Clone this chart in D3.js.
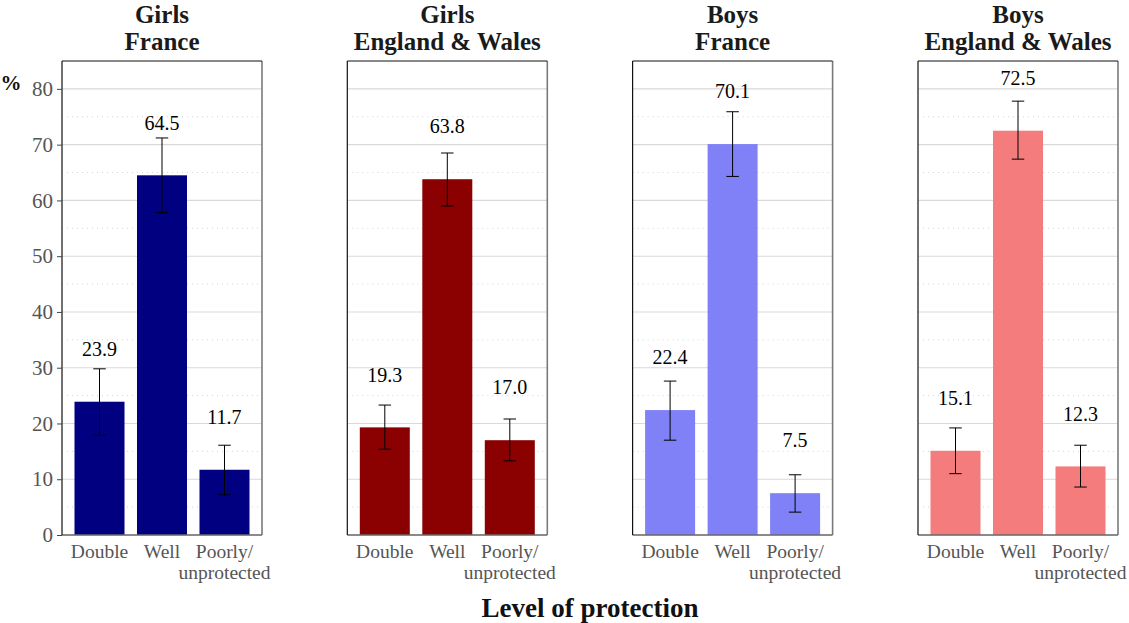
<!DOCTYPE html>
<html><head><meta charset="utf-8">
<script src="https://cdn.jsdelivr.net/npm/d3@7"></script>
<style>body{margin:0;background:#fff}svg{display:block}svg text{font-family:'Liberation Serif','Times New Roman','DejaVu Serif',serif !important}</style>
</head><body><svg id="c" width="1129" height="623"></svg>
<script>
const categories = ["Double", "Well", "Poorly/\nunprotected"];
const panelTitles = [["Girls","France"],["Girls","England & Wales"],["Boys","France"],["Boys","England & Wales"]];
const panelColors = ["#000080", "#8B0000", "#8080F7", "#F57C7C"];
const values = [[23.9, 64.5, 11.7],[19.3, 63.8, 17.0],[22.4, 70.1, 7.5],[15.1, 72.5, 12.3]];
const lower = [[17.9, 57.8, 7.2],[15.4, 59.0, 13.3],[17.0, 64.3, 4.1],[11.0, 67.4, 8.6]];
const upper = [[29.8, 71.2, 16.1],[23.3, 68.5, 20.8],[27.6, 75.9, 10.8],[19.2, 77.8, 16.1]];
const yTicks = [0,10,20,30,40,50,60,70,80];
const yMinor = [5,15,25,35,45,55,65,75];
const labelOffset = 8.2;

const FONT = "'Liberation Serif','Times New Roman','DejaVu Serif',serif";
const svg = d3.select("#c").attr("font-family", FONT);
const panelLefts = [62, 347.3, 632.6, 918];
const pw = 200, pTop = 61, pBottom = 535;
const y = d3.scaleLinear().domain([0, 85]).range([pBottom, pTop]);

panelLefts.forEach((x0, p) => {
  const x = d3.scaleBand().domain(categories).range([x0, x0 + pw]).paddingInner(0.2).paddingOuter(0.2);
  const g = svg.append("g");
  g.selectAll(".minor").data(yMinor).join("line")
    .attr("x1", x0).attr("x2", x0 + pw).attr("y1", d => y(d)).attr("y2", d => y(d))
    .attr("stroke", "#d4d4d4").attr("stroke-width", 1).attr("stroke-dasharray", "1,4");
  g.selectAll(".major").data(yTicks).join("line")
    .attr("x1", x0).attr("x2", x0 + pw).attr("y1", d => y(d)).attr("y2", d => y(d))
    .attr("stroke", "#d9d9d9").attr("stroke-width", 1.1);
  g.selectAll("rect").data(categories).join("rect")
    .attr("x", d => x(d)).attr("width", x.bandwidth())
    .attr("y", (d, i) => y(values[p][i])).attr("height", (d, i) => y(0) - y(values[p][i]))
    .attr("fill", panelColors[p]);
  const cap = x.step() * 0.1;
  categories.forEach((c, i) => {
    const cx = x(c) + x.bandwidth() / 2;
    g.append("line").attr("x1", cx).attr("x2", cx).attr("y1", y(lower[p][i])).attr("y2", y(upper[p][i])).attr("stroke", "#000").attr("stroke-width", 1);
    g.append("line").attr("x1", cx - cap).attr("x2", cx + cap).attr("y1", y(lower[p][i])).attr("y2", y(lower[p][i])).attr("stroke", "#000").attr("stroke-width", 1);
    g.append("line").attr("x1", cx - cap).attr("x2", cx + cap).attr("y1", y(upper[p][i])).attr("y2", y(upper[p][i])).attr("stroke", "#000").attr("stroke-width", 1);
    g.append("text").attr("x", cx).attr("y", y(values[p][i] + labelOffset)).attr("text-anchor", "middle")
      .attr("font-size", 20).attr("fill", "#000").text(values[p][i].toFixed(1));
    c.split("\n").forEach((t, k) => {
      g.append("text").attr("x", cx).attr("y", 558 + k * 21).attr("text-anchor", "middle")
        .attr("font-size", 19.5).attr("fill", "#555").text(t);
    });
  });
  g.append("line").attr("x1", x0 + pw).attr("x2", x0 + pw).attr("y1", pTop).attr("y2", pBottom).attr("stroke", "#7a7a7a").attr("stroke-width", 1.6);
  g.append("line").attr("x1", x0).attr("x2", x0 + pw).attr("y1", pBottom).attr("y2", pBottom).attr("stroke", "#6a6a6a").attr("stroke-width", 1.6);
  g.append("line").attr("x1", x0).attr("x2", x0 + pw).attr("y1", pTop).attr("y2", pTop).attr("stroke", "#111").attr("stroke-width", 1.2);
  g.append("line").attr("x1", x0).attr("x2", x0).attr("y1", pTop).attr("y2", pBottom).attr("stroke", "#111").attr("stroke-width", 1.2);
  panelTitles[p].forEach((t, k) => {
    g.append("text").attr("x", x0 + pw / 2).attr("y", 23 + k * 27).attr("text-anchor", "middle")
      .attr("font-size", 25).attr("font-weight", "bold").attr("fill", "#1a1a1a").text(t);
  });
});

const ax = svg.append("g").attr("transform", `translate(${panelLefts[0]},0)`)
  .call(d3.axisLeft(y).tickValues(yTicks).tickSize(5).tickPadding(4));
ax.attr("font-family", FONT);
ax.select(".domain").remove();
ax.selectAll(".tick line").attr("stroke", "#444");
ax.selectAll(".tick text").attr("font-size", 21).attr("fill", "#555");

svg.append("text").attr("x", 11).attr("y", 90).attr("text-anchor", "middle").attr("font-size", 21)
  .attr("font-weight", "bold").attr("fill", "#111").text("%");
svg.append("text").attr("x", 590).attr("y", 617).attr("text-anchor", "middle").attr("font-size", 27)
  .attr("font-weight", "bold").attr("fill", "#111").text("Level of protection");
</script></body></html>
